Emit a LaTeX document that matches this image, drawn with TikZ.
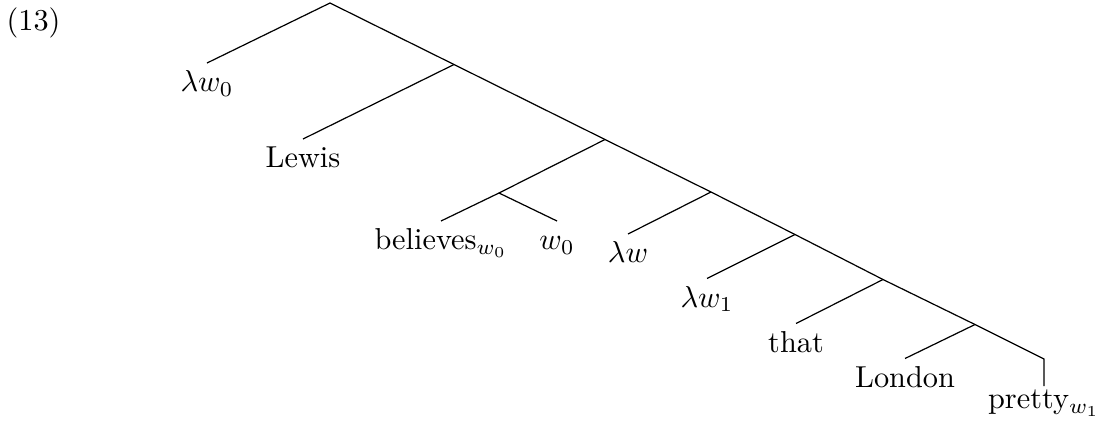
\documentclass[tikz,border=0pt]{standalone}
\begin{document}
\begin{tikzpicture}[x=0.33pt,y=-0.33pt,
  edge/.style={line width=0.4pt, line join=miter},
  leaf/.style={anchor=north, inner sep=0pt, text height=9.24pt, text depth=2.5pt}]
\useasboundingbox (0,0) rectangle (1096,425);
\node[anchor=base west, inner sep=0pt] (ex) at (6,30) {(13)};
% internal points
\coordinate (r) at (330,3);
\coordinate (n1) at (454,64.5);
\coordinate (n2) at (605,139.5);
\coordinate (nb) at (499,193);
\coordinate (n3) at (711,192);
\coordinate (n4) at (795,234.5);
\coordinate (n5) at (883,279.5);
\coordinate (n6) at (975,324.5);
\coordinate (n7) at (1044,359);
% leaves
\node[leaf] (l0) at (207,63) {$\lambda w_0$};
\node[leaf] (lewis) at (303,139) {Lewis};
\node[leaf] (bel) at (441,221) {believes$_{w_0}$};
\node[leaf] (w0) at (557,221) {$w_0$};
\node[leaf] (lw) at (628,234) {$\lambda w$};
\node[leaf] (lw1) at (707,278.5) {$\lambda w_1$};
\node[leaf] (that) at (796,323.5) {that};
\node[leaf] (london) at (905,358.5) {London};
\node[leaf, text height=7.3pt] (pretty) at (1044,386) {pretty$_{w_1}$};
% edges
\draw[edge] (l0.north) -- (r) -- (n1) -- (n2) -- (n3) -- (n4) -- (n5) -- (n6) -- (n7) -- (pretty.north);
\draw[edge] (n1) -- (lewis.north);
\draw[edge] (n2) -- (nb);
\draw[edge] (bel.north) -- (nb) -- (w0.north);
\draw[edge] (n3) -- (lw.north);
\draw[edge] (n4) -- (lw1.north);
\draw[edge] (n5) -- (that.north);
\draw[edge] (n6) -- (london.north);
\end{tikzpicture}
\end{document}
